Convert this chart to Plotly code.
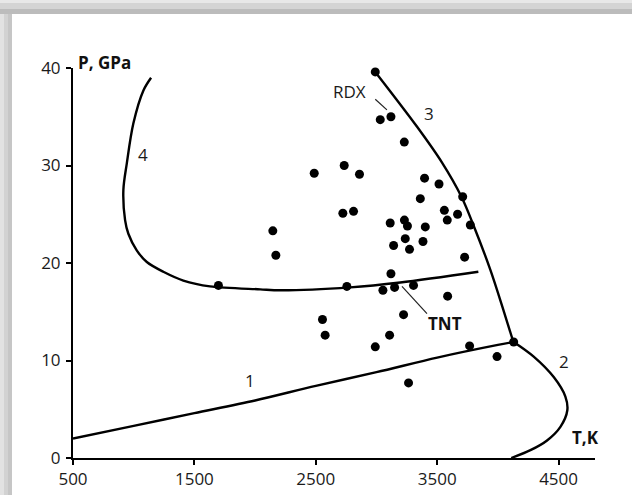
import plotly.graph_objects as go

# Curve data (T in K, P in GPa)
curve1_T = [500, 1000, 1500, 2000, 2500, 3000, 3500, 4000, 4130]
curve1_P = [2.0, 3.3, 4.6, 5.9, 7.4, 8.8, 10.3, 11.6, 11.9]

curve2_T = [4130, 4295, 4460, 4556, 4572, 4515, 4405, 4268, 4110]
curve2_P = [11.9, 10.4, 8.3, 6.3, 4.9, 3.2, 1.8, 0.8, 0.0]

curve3_T = [2990, 3333, 3540, 3700, 3798, 3938, 4045, 4125]
curve3_P = [39.6, 34.0, 30.3, 26.8, 23.9, 19.3, 15.2, 12.0]

curve4_T = [1143, 1080, 997, 943, 915, 929, 956, 1025, 1108, 1244, 1409, 1629, 2042, 2207, 2784, 3196, 3839]
curve4_P = [39.0, 37.7, 34.3, 30.2, 27.5, 24.4, 23.0, 21.3, 20.1, 19.1, 18.2, 17.6, 17.3, 17.2, 17.5, 18.0, 19.1]

# Explosive data points
pts_T = [2990, 3031, 3119, 3229, 2487, 2734, 2860, 3396, 3515, 3361, 3710,
         2723, 2811, 2146, 2171, 3113, 3230, 3255, 3402, 3237, 3383, 3141, 3272,
         3559, 3583, 3668, 3773, 3726, 3119, 2756, 3053, 3149, 3305, 3586,
         3223, 2555, 2577, 3108, 2990, 3767, 4130, 3993, 3264, 1698]
pts_P = [39.6, 34.7, 35.0, 32.4, 29.2, 30.0, 29.1, 28.7, 28.1, 26.6, 26.8,
         25.1, 25.3, 23.3, 20.8, 24.1, 24.4, 23.8, 23.7, 22.5, 22.2, 21.8, 21.4,
         25.4, 24.4, 25.0, 23.9, 20.6, 18.9, 17.6, 17.2, 17.5, 17.7, 16.6,
         14.7, 14.2, 12.6, 12.6, 11.4, 11.5, 11.9, 10.4, 7.7, 17.7]

x_ticks = [500, 1500, 2500, 3500, 4500]
y_ticks = [0, 10, 20, 30, 40]

curve_labels = ["1", "2", "3", "4"]
curve_label_T = [1959, 4542, 3435, 1075]
curve_label_P = [7.9, 9.9, 35.3, 31.1]

fig = go.Figure()
for T, P in [(curve1_T, curve1_P), (curve2_T, curve2_P), (curve3_T, curve3_P), (curve4_T, curve4_P)]:
    fig.add_trace(go.Scatter(x=T, y=P, mode="lines", line=dict(color="black", width=2.4, shape="spline", smoothing=0.9),
                             hoverinfo="skip", showlegend=False, cliponaxis=False))

fig.add_trace(go.Scatter(x=pts_T, y=pts_P, mode="markers",
                         marker=dict(color="black", size=9, symbol="circle"),
                         showlegend=False, cliponaxis=False))

# Leader lines for RDX and TNT
fig.add_trace(go.Scatter(x=[2990, 3086], y=[36.8, 35.7], mode="lines", line=dict(color="#222", width=1.2),
                         showlegend=False, hoverinfo="skip"))
fig.add_trace(go.Scatter(x=[3210, 3416], y=[17.6, 14.8], mode="lines", line=dict(color="#222", width=1.2),
                         showlegend=False, hoverinfo="skip"))

font_main = "Open Sans, Liberation Sans, sans-serif"
annotations = []
for lab, t, p in zip(curve_labels, curve_label_T, curve_label_P):
    annotations.append(dict(x=t, y=p, text=lab, showarrow=False, font=dict(size=17, color="#1a1a1a", family=font_main)))
annotations.append(dict(x=2775, y=37.6, text="RDX", showarrow=False, font=dict(size=17, color="#1a1a1a", family=font_main)))
annotations.append(dict(x=3567, y=13.8, text="<b>TNT</b>", showarrow=False, font=dict(size=17, color="#111", family=font_main)))
annotations.append(dict(xref="paper", yref="paper", x=0, y=1, xanchor="left", yanchor="bottom", xshift=3, yshift=-8,
                        text="<b>P, GPa</b>", showarrow=False, font=dict(size=17, color="#111", family=font_main)))
annotations.append(dict(xref="paper", yref="paper", x=1, y=0, xanchor="center", yanchor="bottom", xshift=-10, yshift=7,
                        text="<b>T,K</b>", showarrow=False, font=dict(size=17, color="#111", family=font_main)))

# Gray frame bands (top and left) as decoration in paper coordinates
W, H = 632, 495
ml, mr, mt, mb = 73, 37, 68, 37
pw, ph = W - ml - mr, H - mt - mb
def px2paper_x(px):
    return (px - ml) / pw
def py2paper_y(py):
    return (H - mb - py) / ph
shapes = []
for (y0, y1, col) in [(0, 3, "#e8e8e8"), (3, 9, "#d4d4d4"), (9, 14, "#bcbcbc")]:
    shapes.append(dict(type="rect", xref="paper", yref="paper", layer="below",
                       x0=px2paper_x(0), x1=px2paper_x(W), y0=py2paper_y(y1), y1=py2paper_y(y0),
                       fillcolor=col, line=dict(width=0)))
for (x0, x1, col) in [(0, 4, "#e2e2e2"), (4, 8, "#d2d2d2"), (8, 12, "#c6c6c6")]:
    shapes.append(dict(type="rect", xref="paper", yref="paper", layer="below",
                       x0=px2paper_x(x0), x1=px2paper_x(x1), y0=py2paper_y(H), y1=py2paper_y(max(x1, 14)),
                       fillcolor=col, line=dict(width=0)))

fig.update_layout(
    width=W, height=H,
    margin=dict(l=ml, r=mr, t=mt, b=mb, autoexpand=False),
    paper_bgcolor="white", plot_bgcolor="white",
    annotations=annotations, shapes=shapes,
    xaxis=dict(range=[500, 4800], tickvals=x_ticks, ticktext=[str(v) for v in x_ticks], automargin=False,
               showgrid=False, zeroline=False, showline=True, linecolor="black", linewidth=2,
               ticks="outside", ticklen=5, tickwidth=1.5, tickcolor="black", ticklabelstandoff=0,
               tickfont=dict(size=17, color="#1a1a1a", family=font_main)),
    yaxis=dict(range=[0, 40], tickvals=y_ticks, ticktext=[str(v) for v in y_ticks], automargin=False,
               showgrid=False, zeroline=False, showline=True, linecolor="black", linewidth=2,
               ticks="outside", ticklen=5, tickwidth=1.5, tickcolor="black", ticklabelstandoff=2,
               tickfont=dict(size=17, color="#1a1a1a", family=font_main)),
)

fig.write_html("out.html")
